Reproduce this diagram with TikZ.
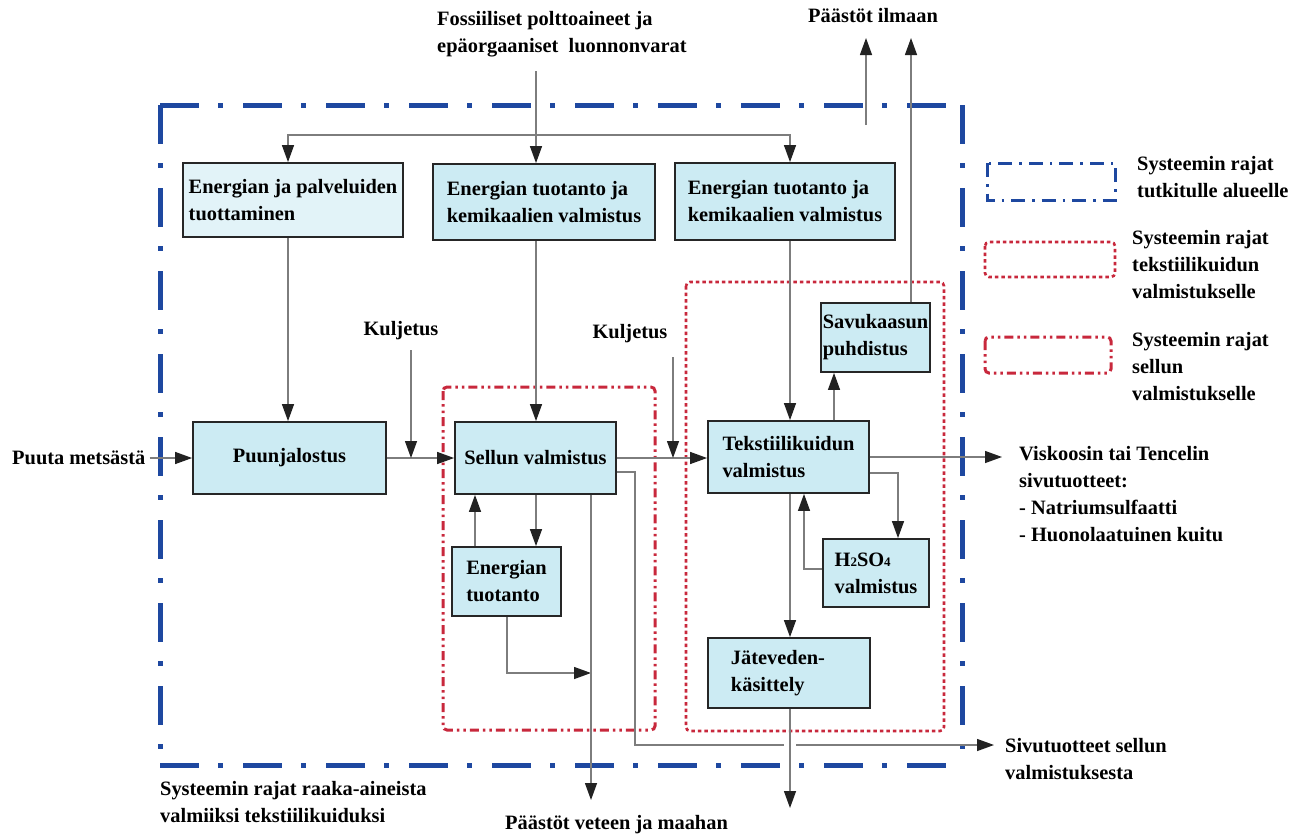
\documentclass[tikz,border=0pt]{standalone}
\usepackage{fontspec}
\setmainfont{Liberation Serif}
\usetikzlibrary{arrows.meta}

\definecolor{bndblue}{RGB}{30,72,160}
\definecolor{bndred}{RGB}{200,40,60}
\definecolor{boxfill}{RGB}{204,235,243}
\definecolor{boxfilllight}{RGB}{226,243,248}
\definecolor{flowgray}{RGB}{125,125,125}
\definecolor{tipdark}{RGB}{34,34,34}

\newcommand{\smalldigit}[1]{{\fontsize{13}{13}\selectfont #1}}

\begin{document}
\begin{tikzpicture}[x=1pt,y=-1pt,
  every node/.style={font=\bfseries\fontsize{20.4}{27}\selectfont, inner sep=0pt, text=black},
  proc/.style={draw=black!85, line width=1.8pt, fill=boxfill, align=left},
  lbl/.style={align=left},
  flow/.style={draw=flowgray, line width=1.3pt},
  flowarr/.style={flow, -{Triangle[length=17pt,width=12pt,color=tipdark]}},
  outerbnd/.style={draw=bndblue, line width=5pt, dash pattern=on 39pt off 19pt on 5pt off 20pt},
  legbnd/.style={draw=bndblue, line width=3pt, dash pattern=on 14pt off 7pt on 2.5pt off 7pt},
  fiberbnd/.style={draw=bndred, line width=2.6pt, dash pattern=on 3.5pt off 3pt, rounded corners=4pt},
  pulpbnd/.style={draw=bndred, line width=3pt, dash pattern=on 9pt off 4pt on 2.5pt off 4pt on 2.5pt off 4pt, rounded corners=4pt}
]
\useasboundingbox (0,0) rectangle (1309,838);

% ---- system boundaries ----
\draw[outerbnd] (160,105) -- (962,105);
\draw[outerbnd] (160,105) -- (160,765);
\draw[outerbnd] (160,765) -- (962,765);
\draw[outerbnd] (962,105) -- (962,765);
\draw[pulpbnd] (443,387) rectangle (655,730);
\draw[fiberbnd] (686,282) rectangle (944,731);

% ---- legend ----
\draw[legbnd] (987,163) rectangle (1115,200);
\draw[fiberbnd] (985,242) rectangle (1115,277);
\draw[pulpbnd] (985,337) rectangle (1111,373);
\node[lbl, anchor=west] (lg1) at (1137,177.5) {Systeemin rajat\\tutkitulle alueelle};
\node[lbl, anchor=west] (lg2) at (1132,264.5) {Systeemin rajat\\tekstiilikuidun\\valmistukselle};
\node[lbl, anchor=west] (lg3) at (1132,366.5) {Systeemin rajat\\sellun\\valmistukselle};

% ---- process boxes ----
\node[proc, fill=boxfilllight, minimum width=220pt, minimum height=74pt] (b1) at (293,200) {Energian ja palveluiden\\tuottaminen};
\node[proc, minimum width=222pt, minimum height=76pt] (b2) at (544,202) {Energian tuotanto ja\\kemikaalien valmistus};
\node[proc, minimum width=220pt, minimum height=77pt] (b3) at (785,201.5) {Energian tuotanto ja\\kemikaalien valmistus};
\node[proc, minimum width=193pt, minimum height=72pt] (puun) at (289.5,458) {Puunjalostus};
\node[proc, minimum width=161pt, minimum height=72pt] (sellu) at (535.5,458) {Sellun valmistus};
\node[proc, minimum width=109pt, minimum height=69pt] (energ) at (506.5,581.5) {Energian\\tuotanto};
\node[proc, minimum width=161pt, minimum height=72pt] (tekst) at (788.5,457) {Tekstiilikuidun\\valmistus};
\node[proc, minimum width=109pt, minimum height=69pt] (savu) at (875.5,337.5) {Savukaasun\\puhdistus};
\node[proc, minimum width=106pt, minimum height=68pt] (h2so) at (876,573) {H\smalldigit{2}SO\smalldigit{4}\\valmistus};
\node[proc, minimum width=162pt, minimum height=70pt] (jate) at (789,673) {Jäteveden-\hspace*{22pt}\\käsittely};

% ---- free labels ----
\node[lbl, anchor=west] (fos) at (437,34) {Fossiiliset polttoaineet ja\\epäorgaaniset\ \ luonnonvarat};
\node[anchor=west] (air) at (808,16) {Päästöt ilmaan};
\node[anchor=west] (wood) at (12,458) {Puuta metsästä};
\node (kul1) at (401,331) {Kuljetus};
\node (kul2) at (630,334) {Kuljetus};
\node[lbl, anchor=west] (visk) at (1019,494) {Viskoosin tai Tencelin\\sivutuotteet:\\- Natriumsulfaatti\\- Huonolaatuinen kuitu};
\node[lbl, anchor=west] (sivu) at (1005,759.5) {Sivutuotteet sellun\\valmistuksesta};
\node[lbl, anchor=west] (sysr) at (160,802) {Systeemin rajat raaka-aineista\\valmiiksi tekstiilikuiduksi};
\node[anchor=west] (pv) at (505,825) {Päästöt veteen ja maahan};

% ---- helper coordinates for connector positions ----
\coordinate (x288) at (288,0);
\coordinate (x411) at (411,0);
\coordinate (x475) at (475,0);
\coordinate (x507) at (507,0);
\coordinate (x536) at (536,0);
\coordinate (x591) at (591,0);
\coordinate (x673) at (673,0);
\coordinate (x790) at (790,0);
\coordinate (x804) at (804,0);
\coordinate (x834) at (834,0);
\coordinate (x898) at (898,0);
\coordinate (x911) at (911,0);
\coordinate (y472) at (0,472);
\coordinate (y473) at (0,473);
\coordinate (y569) at (0,569);
\coordinate (y673) at (0,673);

\coordinate (feedtop) at (536,71);
\coordinate (feedjoin) at (536,135);
\coordinate (airL0) at (866,125);
\coordinate (airL1) at (866,38);
\coordinate (airR1) at (911,38);
\coordinate (k1top) at (411,350);
\coordinate (k2top) at (673,357);
\coordinate (waterL) at (591,800);
\coordinate (waterR) at (790,808);
\coordinate (sbend) at (635,745);
\coordinate (gapL) at (784,745);
\coordinate (gapR) at (796,745);
\coordinate (sEnd) at (994,745);
\coordinate (vEnd) at (1002,457);

% ---- connectors ----
\draw[flowarr] (feedtop) -- (b2.north -| x536);
\draw[flowarr] (feedjoin) -| (b1.north -| x288);
\draw[flowarr] (feedjoin) -| (b3.north -| x790);

\draw[flowarr] (airL0) -- (airL1);
\draw[flowarr] (savu.north -| x911) -- (airR1);

\draw[flowarr, shorten <=4pt] (wood.east) -- (puun.west);
\draw[flowarr] (b1.south -| x288) -- (puun.north -| x288);
\draw[flowarr] (b2.south -| x536) -- (sellu.north -| x536);
\draw[flowarr] (b3.south -| x790) -- (tekst.north -| x790);

\draw[flowarr] (puun.east) -- (sellu.west);
\draw[flowarr] (k1top) -- (k1top |- puun.east);
\draw[flowarr] (sellu.east) -- (sellu.east -| tekst.west);
\draw[flowarr] (k2top) -- (k2top |- sellu.east);

\draw[flowarr] (sellu.south -| x536) -- (energ.north -| x536);
\draw[flowarr] (energ.north -| x475) -- (sellu.south -| x475);
\draw[flowarr] (energ.south -| x507) |- (x591 |- y673);
\draw[flowarr] (sellu.south -| x591) -- (waterL);
\draw[flow] (sellu.east |- y472) -| (sbend) -- (gapL);
\draw[flowarr] (gapR) -- (sEnd);

\draw[flowarr] (tekst.north -| x834) -- (savu.south -| x834);
\draw[flowarr] (tekst.east |- y473) -| (h2so.north -| x898);
\draw[flowarr] (h2so.west |- y569) -| (tekst.south -| x804);
\draw[flowarr] (tekst.south -| x790) -- (jate.north -| x790);
\draw[flowarr] (jate.south -| x790) -- (waterR);
\draw[flowarr] (tekst.east) -- (vEnd);

\end{tikzpicture}
\end{document}
